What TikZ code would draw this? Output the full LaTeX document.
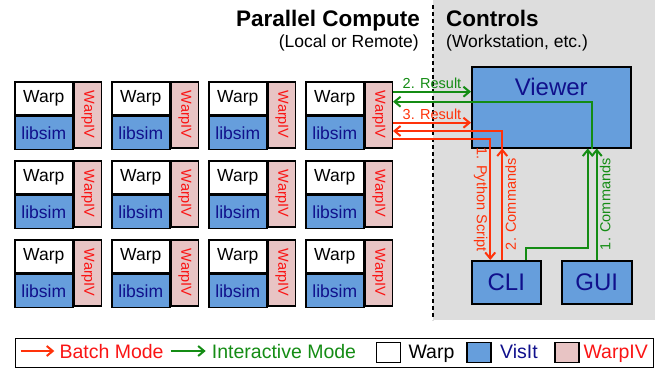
\documentclass[tikz,border=0pt]{standalone}
\usepackage{fontspec}
\setmainfont{Liberation Sans}
\usetikzlibrary{arrows.meta}

\definecolor{visblue}{RGB}{102,158,220}
\definecolor{visnavy}{RGB}{16,16,140}
\definecolor{wivpink}{RGB}{232,196,196}
\definecolor{wivred}{RGB}{250,20,20}
\definecolor{batchred}{RGB}{255,50,10}
\definecolor{intgreen}{RGB}{20,140,20}
\definecolor{ctrlgray}{RGB}{221,221,221}

\begin{document}
\begin{tikzpicture}[x=1pt,y=-1pt,>={Straight Barb[length=6pt,width=10pt]}]
  \tikzstyle{warp}=[draw,line width=1.5pt,fill=white,minimum width=58pt,
              minimum height=33pt,inner sep=0pt,anchor=north west,
              font=\fontsize{17.5}{20}\selectfont]
  \tikzstyle{sim}=[warp,fill=visblue,text=visnavy]
  \tikzstyle{wiv}=[warp,fill=wivpink,text=wivred,minimum width=27pt,
              minimum height=66pt,font=\fontsize{14.5}{16}\selectfont]
  \tikzstyle{ctrl}=[draw,line width=1.5pt,fill=visblue,text=visnavy,inner sep=0pt,
              anchor=north west,font=\fontsize{24}{28}\selectfont]
  \tikzstyle{head}=[inner sep=0pt,font=\bfseries\fontsize{22.5}{26}\selectfont]
  \tikzstyle{sub}=[inner sep=0pt,font=\fontsize{17.5}{20}\selectfont]
  \tikzstyle{batch}=[->,draw=batchred,line width=2pt]
  \tikzstyle{inter}=[->,draw=intgreen,line width=2pt]
  \tikzstyle{lbl}=[inner sep=2pt,font=\fontsize{14.5}{16}\selectfont]
  \tikzstyle{leg}=[inner sep=0pt,anchor=base west,font=\fontsize{19.5}{22}\selectfont]
  \tikzstyle{swatch}=[draw,line width=1.5pt,minimum width=24pt,minimum height=20pt,
              inner sep=0pt,anchor=north west]

  \useasboundingbox (0,0) rectangle (655,367);
  \fill[ctrlgray] (433,0) rectangle (655,320);
  \draw[line width=1.3pt,dash pattern=on 4pt off 3pt] (433,5) -- (433,320);

  \node[head,anchor=base east] (pc) at (420,26.7) {Parallel Compute};
  \node[sub,anchor=base east] (lr) at (419,47.5) {(Local or Remote)};
  \node[head,anchor=base west] (ct) at (446,26.7) {Controls};
  \node[sub,anchor=base west] (ws) at (446,47.5) {(Workstation, etc.)};

  % compute nodes
  \foreach \c in {0,...,3}
    \foreach \r in {0,1,2} {
      \node[warp] (w\r\c) at (14+97*\c,81+79*\r) {Warp};
      \node[sim] (s\r\c) at (w\r\c.south west) {libsim};
      \node[wiv] (v\r\c) at (w\r\c.north east) {\rotatebox{-90}{WarpIV}};
    }

  % controls
  \node[ctrl,minimum width=159pt,minimum height=81pt,
        label={[anchor=north,inner sep=0pt,yshift=-12pt,text=visnavy,
                font=\fontsize{24}{28}\selectfont]north:Viewer}] (viewer) at (471,66) {};
  \node[ctrl,minimum width=69pt,minimum height=43pt] (cli) at (471,260) {CLI};
  \node[ctrl,minimum width=70pt,minimum height=43pt] (gui) at (561,260) {GUI};

  \coordinate (o2) at ([yshift=-10.7pt]v03.north east);
  \coordinate (o2b) at ([yshift=-20.7pt]v03.north east);
  \coordinate (o3) at ([yshift=-41.7pt]v03.north east);
  \coordinate (o3b) at ([yshift=-50pt]v03.north east);
  \coordinate (o1) at ([yshift=-58.3pt]v03.north east);

  % interactive mode
  \coordinate (gin) at (gui.north |- viewer.south);
  \coordinate (cin) at ([xshift=-9pt]gin);
  \coordinate (gout) at ([xshift=-4.5pt]gin);
  \coordinate (cli3) at ([xshift=19.5pt]cli.north);
  \draw[inter] (gui.north) -- (gin)
    node[lbl,midway,rotate=90,anchor=north,text=intgreen] {1. Commands};
  \draw[inter] (cli3) -- ++(0,-12) -| (cin);
  \draw[inter] (o2) -- (o2 -| viewer.west)
    node[lbl,midway,above,text=intgreen] {2. Result};
  \draw[inter] (gout) |- (o2b);

  % batch mode
  \coordinate (cli1) at ([xshift=-16pt]cli.north);
  \coordinate (cli2) at ([xshift=-4pt]cli.north);
  \coordinate (rin) at (cli2 |- viewer.south);
  \draw[batch] (o1) -| (cli1)
    node[lbl,pos=0.75,rotate=-90,anchor=north,text=batchred] {1. Python Script};
  \draw[batch] (cli2) -- (rin)
    node[lbl,midway,rotate=90,anchor=north,text=batchred] {2. Commands};
  \draw[batch] (rin) |- (o3b);
  \draw[batch] (o3) -- (o3 -| viewer.west)
    node[lbl,midway,above,text=batchred] {3. Result};

  % legend
  \node[draw,line width=1.2pt,minimum width=638pt,minimum height=29pt,
        inner sep=0pt,anchor=north west] (legend) at (15,337.7) {};
  \node[leg,text=wivred] (lbatch) at (59.3,358.3) {Batch Mode};
  \node[leg,text=intgreen] (linter) at (211.7,358.3) {Interactive Mode};
  \coordinate (lb0) at (20.7,351);
  \coordinate (li0) at (170.7,351);
  \draw[batch] (lb0) -- ([xshift=-5pt]lb0 -| lbatch.west);
  \draw[inter] (li0) -- ([xshift=-6pt]li0 -| linter.west);
  \node[swatch,fill=white] (sw1) at (375.5,341.7) {};
  \node[leg] (lwarp) at (408.3,358.3) {Warp};
  \node[swatch,fill=visblue] (sw2) at (466,341.7) {};
  \node[leg,text=visnavy] (lvis) at (500,358.3) {VisIt};
  \node[swatch,fill=wivpink] (sw3) at (554,341.7) {};
  \node[leg,text=wivred] (lwiv) at (583.3,358.3) {WarpIV};
\end{tikzpicture}
\end{document}
